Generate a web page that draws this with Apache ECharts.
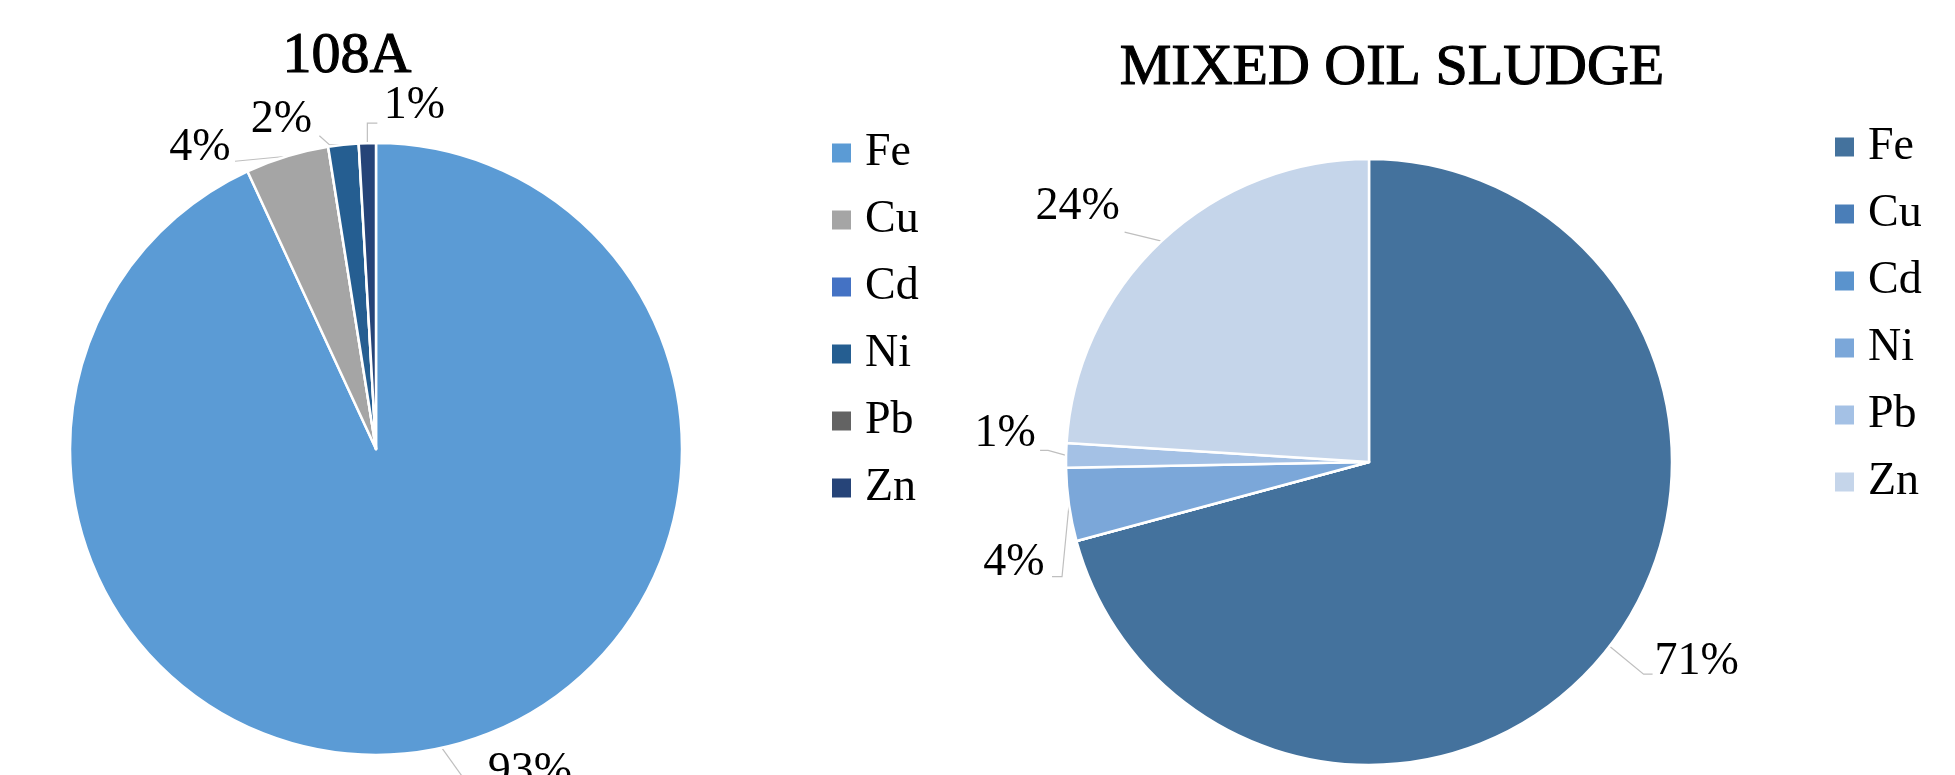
<!DOCTYPE html>
<html>
<head>
<meta charset="utf-8">
<script src="https://cdn.jsdelivr.net/npm/echarts@6/dist/echarts.min.js"></script>
<style>
  html, body { margin: 0; padding: 0; background: #fff; }
  #chart { width: 1955px; height: 775px; }
</style>
</head>
<body>
<div id="chart"></div>
<script>
// Metal composition (% of total) of two sludge samples
const elements = ['Fe', 'Cu', 'Cd', 'Ni', 'Pb', 'Zn'];
const titles = ['108A', 'MIXED OIL SLUDGE'];
const share108A = [93.1, 4.4, 0, 1.6, 0, 0.9];
const shareSludge = [70.8, 0, 0, 3.9, 1.3, 24.0];

// Slice / legend colours
const colors108A = ['#5B9BD5', '#A5A5A5', '#4472C4', '#255E91', '#636363', '#264478'];
const colorsSludge = ['#44729D', '#4A7EB8', '#5A93CD', '#7BA7D9', '#A4C1E5', '#C5D5EA'];

const FONT = '"Liberation Serif", "Times New Roman", serif';

// Leader-line bends and label centres, as offsets from each slice's outer mid-point
const leader108A = {
  Fe: { line: [[20, 28]], text: [88, 24] },
  Cu: { line: [[-52, 5]], text: [-87, -8] },
  Ni: { line: [[-14, 0], [-24, -9]], text: [-62, -25] },
  Zn: { line: [[0, -20], [10, -20]], text: [47, -37] }
};
const leaderSludge = {
  Fe: { line: [[34, 28], [43, 28]], text: [87, 16] },
  Ni: { line: [[-7, 72], [-17, 72]], text: [-55, 58] },
  Pb: { line: [[-18, -5], [-26, -5]], text: [-61, -21] },
  Zn: { line: [[-37, -9]], text: [-84, -34] }
};

function leaderLayout(tweaks) {
  return function (p) {
    const t = tweaks[elements[p.dataIndex]];
    const pts = p.labelLinePoints;
    if (!t || !pts) return {};
    const a = pts[0];
    const line = [[a[0], a[1]]].concat(t.line.map(d => [a[0] + d[0], a[1] + d[1]]));
    while (line.length < 3) line.push(line[line.length - 1].slice());
    return {
      x: a[0] + t.text[0],
      y: a[1] + t.text[1],
      align: 'center',
      verticalAlign: 'middle',
      labelLinePoints: line
    };
  };
}

function pieSeries(values, colors, center, radius, tweaks) {
  return {
    type: 'pie',
    center: center,
    radius: radius,
    startAngle: 90,
    clockwise: true,
    avoidLabelOverlap: false,
    percentPrecision: 0,
    animation: false,
    emphasis: { disabled: true },
    itemStyle: { borderColor: '#ffffff', borderWidth: 2.5 },
    label: { show: true, formatter: '{d}%', fontFamily: FONT, fontSize: 46, color: '#000' },
    labelLine: { show: true, length: 10, length2: 10, lineStyle: { color: '#BFBFBF', width: 1.2 } },
    labelLayout: leaderLayout(tweaks),
    data: elements.map((n, i) => ({
      name: n,
      value: values[i],
      itemStyle: { color: colors[i] },
      label: { show: values[i] > 0 },
      labelLine: { show: values[i] > 0 }
    }))
  };
}

function legendFor(colors, left, top) {
  return {
    orient: 'vertical',
    left: left,
    top: top,
    padding: 0,
    icon: 'rect',
    itemWidth: 21,
    itemHeight: 21,
    itemGap: 21,
    selectedMode: false,
    textStyle: { fontFamily: FONT, fontSize: 46, lineHeight: 46, color: '#000', padding: [0, 0, 0, 8] },
    data: elements.map((n, i) => ({ name: n, itemStyle: { color: colors[i] } }))
  };
}

function titleFor(text, x, y) {
  return {
    text: text,
    left: x,
    top: y,
    padding: 0,
    textAlign: 'center',
    textVerticalAlign: 'middle',
    textStyle: {
      fontFamily: FONT, fontSize: 58, fontWeight: 'normal', color: '#000',
      textBorderColor: '#000', textBorderWidth: 1.1
    }
  };
}

const chart = echarts.init(document.getElementById('chart'), null, { renderer: 'canvas' });
chart.setOption({
  backgroundColor: '#ffffff',
  animation: false,
  title: [titleFor(titles[0], 347, 57), titleFor(titles[1], 1392, 69)],
  legend: [legendFor(colors108A, 830, 130), legendFor(colorsSludge, 1833, 124)],
  series: [
    pieSeries(share108A, colors108A, [376, 449], 306, leader108A),
    pieSeries(shareSludge, colorsSludge, [1369, 462], 303, leaderSludge)
  ]
});
</script>
</body>
</html>
